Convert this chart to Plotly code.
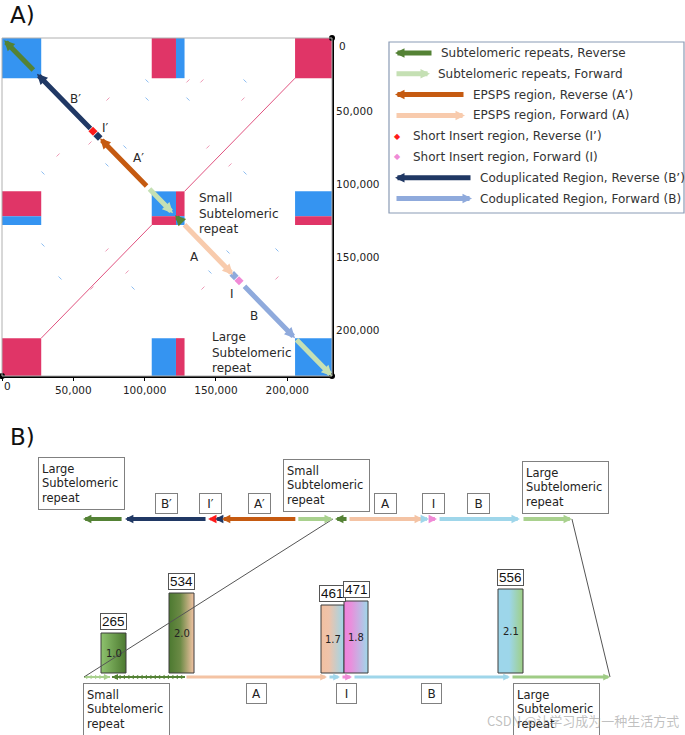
import numpy as np
import plotly.graph_objects as go

W, H = 685, 735
FONT = "DejaVu Sans"

# ---------------- colours ----------------
DKGREEN = "#548235"
LTGREEN_A = "#c5e0b4"
ORANGE = "#c55a11"
PEACH_A = "#f8cbad"
RED = "#ff1a1a"
PINK = "#f08ad6"
NAVY = "#203864"
LTBLUE_A = "#8faadc"
BLUE_BLK = "#2a8ef0"
RED_BLK = "#de2a5f"
PEACH_B = "#f4c3a4"
LTBLUE_B = "#9fd6ea"
LTGREEN_B = "#a9d18e"
GREEN_B = "#9fcc85"

# ---------------- Panel A: self dot plot ----------------
SEQ_LEN = 231400
tick_vals = [0, 50000, 100000, 150000, 200000]
tick_text = ["0", "50,000", "100,000", "150,000", "200,000"]

rep_start = [0, 105000, 122000, 205500]
rep_end = [27500, 122000, 128000, 231400]
rep_orient = [-1, 1, -1, 1]

inv_a = [27500, 105000]
inv_b = [128000, 205500]

diag_start = [1500, 24500, 68700, 102400, 121300, 126900, 169000, 205500]
diag_end = [23000, 63000, 102400, 119900, 126200, 162000, 205500, 231400]
diag_dir = [-1, -1, -1, 1, -1, 1, 1, 1]
diag_color = [DKGREEN, NAVY, ORANGE, LTGREEN_A, DKGREEN, PEACH_A, LTBLUE_A, LTGREEN_A]

dot_pos = [63800, 67300, 162700, 166200]
dot_color = [RED, NAVY, LTBLUE_A, PINK]

fwd_noise_x = [101.7, 170.4, 101.7, 130.4, 86.2, 73.6, 170.4, 28.7, 145.8, 158.5, 40.7, 91.9, 192.8, 28.7]
fwd_noise_y = [29.4, 29.4, 41.8, 41.8, 74.6, 86.9, 92.4, 92.4, 160.2, 146.5, 164.3, 171.2, 145.1, 141.7]
rev_noise_x = [130.4, 140.2, 74.3, 169.0, 144.4, 159.9, 61.7, 39.3, 73.6, 87.7, 140.9, 63.1, 192.8, 72.2]
rev_noise_y = [29.4, 29.4, 41.8, 41.8, 74.6, 86.9, 71.9, 80.1, 145.1, 160.2, 171.2, 171.2, 164.3, 160.9]

labelA_text = ["Large<br>Subtelomeric<br>repeat", "B′", "I′", "A′", "Small<br>Subtelomeric<br>repeat",
               "A", "I", "B", "Large<br>Subtelomeric<br>repeat"]
labelA_x = [29500, 51200, 72900, 95400, 136700, 135300, 161300, 176700, 145900]
labelA_y = [-700, 41800, 61600, 82200, 103400, 149900, 175300, 190300, 198500]

legend_labels = ["Subtelomeric repeats, Reverse", "Subtelomeric repeats, Forward",
                 "EPSPS region, Reverse (A’)", "EPSPS region, Forward (A)",
                 "Short Insert region, Reverse (I’)", "Short Insert region, Forward (I)",
                 "Coduplicated Region, Reverse (B’)", "Coduplicated Region, Forward (B)"]
legend_colors = [DKGREEN, LTGREEN_A, ORANGE, PEACH_A, RED, PINK, NAVY, LTBLUE_A]
legend_dir = [-1, 1, -1, 1, 0, 0, -1, 1]
legend_len = [38, 35, 70, 70, 0, 0, 77, 77]

# ---------------- Panel B: top row (kb) ----------------
top_start = [0, 20.0, 59.6, 62.9, 66.2, 101.9, 120.1, 126.3, 162.5, 165.8, 169.2, 209.2]
top_end = [19.1, 59.1, 61.5, 65.8, 101.9, 119.1, 126.3, 162.0, 164.9, 168.7, 208.2, 233.0]
top_dir = [-1, -1, -1, -1, -1, 1, -1, 1, 1, 1, 1, 1]
top_color = [DKGREEN, NAVY, RED, NAVY, ORANGE, LTGREEN_B, DKGREEN, PEACH_B, LTBLUE_B, PINK, LTBLUE_B, LTGREEN_B]
top_letter = {1: "B′", 2: "I′", 4: "A′", 7: "A", 9: "I", 10: "B"}

# ---------------- Panel B: bottom row (kb, zoomed) ----------------
bot_start = [101.5, 108.5, 126.75, 162.5, 165.75, 168.75, 208.25]
bot_end = [108.0, 126.75, 162.25, 165.5, 168.5, 208.0, 233.0]
bot_dir = [1, -1, 1, 1, 1, 1, 1]
bot_color = [LTGREEN_B, DKGREEN, PEACH_B, LTBLUE_B, PINK, LTBLUE_B, GREEN_B]
bot_chevron = [True, True, False, False, False, False, False]
bot_letter = {2: "A", 4: "I", 5: "B"}

bar_left = [105.75, 122.75, 160.75, 166.5, 205.0]
bar_right = [112.0, 129.0, 166.5, 172.5, 211.25]
bar_ratio = [1.0, 2.0, 1.7, 1.8, 2.1]
bar_count = [265, 534, 461, 471, 556]
bar_grad = [
    [[0, "#8ec26e"], [1, "#4c7930"]],
    [[0, "#4c7930"], [0.45, "#6b8a45"], [1, "#f4c3a4"]],
    [[0, "#f2c0a0"], [0.35, "#efc3aa"], [1, "#9dd6ea"]],
    [[0, "#ee82dc"], [0.3, "#e890dc"], [1, "#9fd8ea"]],
    [[0, "#9dd6ea"], [0.45, "#9dd6ea"], [1, "#9fcf85"]],
]

# ---------------- axes geometry ----------------
def dom_x(a, b):
    return [a / W, b / W]

def dom_y(top, bot):
    return [1 - bot / H, 1 - top / H]

AX1 = dict(xd=dom_x(2, 332), yd=dom_y(38, 376), xr=[0, SEQ_LEN], yr=[SEQ_LEN, 0])
AX2 = dict(xd=dom_x(83, 573), yd=dom_y(499, 539), xr=[0, 233.5], yr=[-1, 1])
AX3 = dict(xd=dom_x(84, 610), yd=dom_y(560, 700), xr=[101.5, 233.0], yr=[-0.675, 2.825])

def to_paper(ax, x, y):
    px = ax["xd"][0] + (x - ax["xr"][0]) / (ax["xr"][1] - ax["xr"][0]) * (ax["xd"][1] - ax["xd"][0])
    py = ax["yd"][0] + (y - ax["yr"][0]) / (ax["yr"][1] - ax["yr"][0]) * (ax["yd"][1] - ax["yd"][0])
    return px, py

def arrow(xref, yref, tail, head, color, width, size):
    return dict(x=head[0], y=head[1], ax=tail[0], ay=tail[1], xref=xref, yref=yref,
                axref=xref, ayref=yref, showarrow=True, arrowhead=2, arrowsize=size,
                arrowwidth=width, arrowcolor=color, text="")

fig = go.Figure()
shapes = []
ann = []

# ----- Panel A blocks -----
for i in range(4):
    for j in range(4):
        col = BLUE_BLK if rep_orient[i] == rep_orient[j] else RED_BLK
        shapes.append(dict(type="rect", xref="x", yref="y", x0=rep_start[j], x1=rep_end[j],
                           y0=rep_start[i], y1=rep_end[i], fillcolor=col, line=dict(width=0),
                           opacity=0.95, layer="below"))
# inverted repeat (anti-diagonal)
fig.add_trace(go.Scatter(x=[inv_b[1], inv_b[0]], y=[inv_a[0], inv_a[1]], mode="lines",
                         line=dict(color="#e0527f", width=1), xaxis="x", yaxis="y", hoverinfo="skip"))
fig.add_trace(go.Scatter(x=[inv_a[1], inv_a[0]], y=[inv_b[0], inv_b[1]], mode="lines",
                         line=dict(color="#e0527f", width=1), xaxis="x", yaxis="y", hoverinfo="skip"))
# faint scattered matches
fig.add_trace(go.Scatter(x=[v * 1000 for v in fwd_noise_x], y=[v * 1000 for v in fwd_noise_y], mode="markers",
                         marker=dict(symbol="line-nw", size=3, line=dict(color="rgba(90,160,235,0.7)", width=1)),
                         xaxis="x", yaxis="y", hoverinfo="skip"))
fig.add_trace(go.Scatter(x=[v * 1000 for v in rev_noise_x], y=[v * 1000 for v in rev_noise_y], mode="markers",
                         marker=dict(symbol="line-ne", size=3, line=dict(color="rgba(230,110,150,0.7)", width=1)),
                         xaxis="x", yaxis="y", hoverinfo="skip"))
# plot border (top/left grey)
shapes.append(dict(type="rect", xref="x domain", yref="y domain", x0=0, x1=1, y0=0, y1=1,
                   line=dict(color="#b0b0b0", width=1), layer="above"))
# diagonal arrows
for s, e, d, c in zip(diag_start, diag_end, diag_dir, diag_color):
    tail, head = ((e, e), (s, s)) if d < 0 else ((s, s), (e, e))
    ann.append(arrow("x", "y", tail, head, c, 5, 0.42))
fig.add_trace(go.Scatter(x=dot_pos, y=dot_pos, mode="markers",
                         marker=dict(symbol="diamond", size=7, color=dot_color),
                         xaxis="x", yaxis="y", hoverinfo="skip"))
# corner dots of axes
fig.add_trace(go.Scatter(x=[0, SEQ_LEN, SEQ_LEN], y=[SEQ_LEN, SEQ_LEN, 0], mode="markers",
                         marker=dict(size=6, color="black"), cliponaxis=False,
                         xaxis="x", yaxis="y", hoverinfo="skip"))
for t, x, y in zip(labelA_text, labelA_x, labelA_y):
    multi = "<br>" in t
    ann.append(dict(x=x, y=y, xref="x", yref="y", text=t, showarrow=False,
                    xanchor="left" if multi else "center", yanchor="top" if multi else "middle",
                    align="left", font=dict(family=FONT, size=12, color="#2a2a2a")))
# "0" labels
p0x, p0y = to_paper(AX1, 0, SEQ_LEN)
ann.append(dict(x=p0x, y=p0y, xref="paper", yref="paper", text="0", showarrow=False, xanchor="center",
                yanchor="middle", xshift=5, yshift=-10, font=dict(family=FONT, size=10.5, color="#222")))
p1x, p1y = to_paper(AX1, SEQ_LEN, 0)
ann.append(dict(x=p1x, y=p1y, xref="paper", yref="paper", text="0", showarrow=False, xanchor="left",
                yanchor="middle", xshift=5, yshift=-8, font=dict(family=FONT, size=10.5, color="#222")))

# ----- Legend box -----
shapes.append(dict(type="rect", xref="paper", yref="paper", x0=389 / W, x1=684 / W,
                   y0=1 - 213 / H, y1=1 - 42 / H, line=dict(color="#8a9bb5", width=1.2)))
for k, (lab, col, d, ln) in enumerate(zip(legend_labels, legend_colors, legend_dir, legend_len)):
    yc = 1 - (53 + k * 20.8) / H
    if d == 0:
        ann.append(dict(x=397 / W, y=yc, xref="paper", yref="paper", text="◆", showarrow=False,
                        xanchor="center", yanchor="middle", font=dict(size=8, color=col, family=FONT)))
        tx = 411
    else:
        x0, x1 = 395, 395 + ln
        if d < 0:
            ann.append(dict(x=x0 / W, y=yc, xref="paper", yref="paper", ax=ln, ay=0, showarrow=True,
                            arrowhead=2, arrowsize=0.38, arrowwidth=5, arrowcolor=col, text=""))
        else:
            ann.append(dict(x=x1 / W, y=yc, xref="paper", yref="paper", ax=-ln, ay=0, showarrow=True,
                            arrowhead=2, arrowsize=0.38, arrowwidth=5, arrowcolor=col, text=""))
        tx = x1 + 6
    ann.append(dict(x=tx / W, y=yc, xref="paper", yref="paper", text=lab, showarrow=False,
                    xanchor="left", yanchor="middle", font=dict(family=FONT, size=12, color="#333")))

# ----- Panel B top row -----
for k, (s, e, d, c) in enumerate(zip(top_start, top_end, top_dir, top_color)):
    tail, head = ((e, 0), (s, 0)) if d < 0 else ((s, 0), (e, 0))
    ann.append(arrow("x2", "y2", tail, head, c, 4, 0.42))
    if k in top_letter:
        ann.append(dict(x=(s + e) / 2, y=0, xref="x2", yref="y2", text=top_letter[k], showarrow=False,
                        xanchor="center", yanchor="bottom", yshift=5, width=17, height=15, borderpad=2,
                        bordercolor="#808080", borderwidth=1, bgcolor="white",
                        font=dict(family=FONT, size=12, color="#222")))
BOX = dict(showarrow=False, width=79, height=45, borderpad=3, bordercolor="#808080", borderwidth=1,
           bgcolor="white", align="left", font=dict(family=FONT, size=11.5, color="#222"))
ann.append(dict(x=top_end[0], y=0, xref="x2", yref="y2", text="Large<br>Subtelomeric<br>repeat",
                xanchor="right", yanchor="bottom", yshift=9, xshift=2, **BOX))
ann.append(dict(x=(top_start[5] + top_end[6]) / 2, y=0, xref="x2", yref="y2",
                text="Small<br>Subtelomeric<br>repeat", xanchor="center", yanchor="bottom",
                yshift=7, xshift=4, **BOX))
ann.append(dict(x=top_start[11], y=0, xref="x2", yref="y2", text="Large<br>Subtelomeric<br>repeat",
                xanchor="left", yanchor="bottom", yshift=5, **BOX))

# ----- Panel B bottom row -----
ROW_Y = -0.1
for k, (s, e, d, c, chev) in enumerate(zip(bot_start, bot_end, bot_dir, bot_color, bot_chevron)):
    tail, head = ((e, ROW_Y), (s, ROW_Y)) if d < 0 else ((s, ROW_Y), (e, ROW_Y))
    if chev:
        fig.add_trace(go.Scatter(x=[s, e], y=[ROW_Y, ROW_Y], mode="lines", xaxis="x3", yaxis="y3",
                                 line=dict(color=c, width=2, dash="dot" if d > 0 else "solid"),
                                 hoverinfo="skip"))
        xs = np.arange(s + 0.8, e - 0.8, 1.1)
        fig.add_trace(go.Scatter(x=xs, y=[ROW_Y] * len(xs), mode="markers", xaxis="x3", yaxis="y3",
                                 marker=dict(symbol="triangle-left" if d < 0 else "triangle-right",
                                             size=4, color=c), hoverinfo="skip"))
        ann.append(arrow("x3", "y3", tail, head, c, 2, 0.6))
    else:
        ann.append(arrow("x3", "y3", tail, head, c, 3, 0.45))
    if k in bot_letter:
        ann.append(dict(x=(s + e) / 2, y=ROW_Y, xref="x3", yref="y3", text=bot_letter[k], showarrow=False,
                        xanchor="center", yanchor="top", yshift=-6, width=15, height=15, borderpad=2,
                        bordercolor="#808080", borderwidth=1, bgcolor="white",
                        font=dict(family=FONT, size=12, color="#222")))
ann.append(dict(x=bot_start[0], y=ROW_Y, xref="x3", yref="y3", text="Small<br>Subtelomeric<br>repeat",
                xanchor="left", yanchor="top", yshift=-6, xshift=-1, **BOX))
ann.append(dict(x=bot_start[6], y=ROW_Y, xref="x3", yref="y3", text="Large<br>Subtelomeric<br>repeat",
                xanchor="left", yanchor="top", yshift=-6, xshift=2, **BOX))

# bars with gradient fill
for l, r, h, n, g in zip(bar_left, bar_right, bar_ratio, bar_count, bar_grad):
    fig.add_trace(go.Scatter(x=[l, r, r, l, l], y=[0, 0, h, h, 0], mode="lines", fill="toself",
                             fillgradient=dict(type="horizontal", colorscale=g),
                             line=dict(color="#3c3c3c", width=1), xaxis="x3", yaxis="y3",
                             hoverinfo="skip"))
    ann.append(dict(x=(l + r) / 2, y=h / 2, xref="x3", yref="y3", text=f"{h:.1f}", showarrow=False,
                    xanchor="center", yanchor="middle", font=dict(family=FONT, size=10, color="#222")))
    ann.append(dict(x=(l + r) / 2, y=h, xref="x3", yref="y3", text=str(n), showarrow=False,
                    xanchor="center", yanchor="bottom", yshift=3, height=13, borderpad=1,
                    bordercolor="#555", borderwidth=1, bgcolor="white",
                    font=dict(family="Liberation Sans", size=13.5, color="#111")))

# connector lines between rows
a0 = to_paper(AX2, top_end[5], 0)
b0 = to_paper(AX3, bot_start[0], ROW_Y)
a1 = to_paper(AX2, top_end[11], 0)
b1 = to_paper(AX3, bot_end[6], ROW_Y)
for a, b in [(a0, b0), (a1, b1)]:
    shapes.append(dict(type="line", xref="paper", yref="paper", x0=a[0], y0=a[1], x1=b[0], y1=b[1],
                       line=dict(color="#555", width=1), layer="above"))

# panel letters and watermark
ann.append(dict(x=8 / W, y=1 - 15 / H, xref="paper", yref="paper", text="A)", showarrow=False,
                xanchor="left", yanchor="middle", font=dict(family=FONT, size=23, color="#111")))
ann.append(dict(x=8 / W, y=1 - 437 / H, xref="paper", yref="paper", text="B)", showarrow=False,
                xanchor="left", yanchor="middle", font=dict(family=FONT, size=23, color="#111")))
ann.append(dict(x=681 / W, y=1 - 720 / H, xref="paper", yref="paper", text="CSDN @让学习成为一种生活方式",
                showarrow=False, xanchor="right", yanchor="middle",
                font=dict(family="Noto Sans CJK SC", size=13, color="rgba(150,150,150,0.6)")))

axis_font = dict(family=FONT, size=10.5, color="#222")
fig.update_layout(
    width=W, height=H, autosize=False, margin=dict(l=0, r=0, t=0, b=0),
    paper_bgcolor="white", plot_bgcolor="white", showlegend=False,
    shapes=shapes, annotations=ann,
    xaxis=dict(domain=AX1["xd"], range=AX1["xr"], anchor="y", showgrid=False, zeroline=False,
               showline=True, linecolor="black", linewidth=2, ticks="outside", ticklen=3,
               tickcolor="black", tickvals=tick_vals, ticktext=[""] + tick_text[1:], tickfont=axis_font),
    yaxis=dict(domain=AX1["yd"], range=AX1["yr"], anchor="x", side="right", showgrid=False,
               zeroline=False, showline=True, linecolor="black", linewidth=2, ticks="",
               tickvals=tick_vals, ticktext=[""] + tick_text[1:], tickfont=axis_font),
    xaxis2=dict(domain=AX2["xd"], range=AX2["xr"], anchor="y2", visible=False),
    yaxis2=dict(domain=AX2["yd"], range=AX2["yr"], anchor="x2", visible=False),
    xaxis3=dict(domain=AX3["xd"], range=AX3["xr"], anchor="y3", visible=False),
    yaxis3=dict(domain=AX3["yd"], range=AX3["yr"], anchor="x3", visible=False),
)

fig.write_html("out.html", config={"displayModeBar": False},
               post_script="document.body.style.margin='0';")
